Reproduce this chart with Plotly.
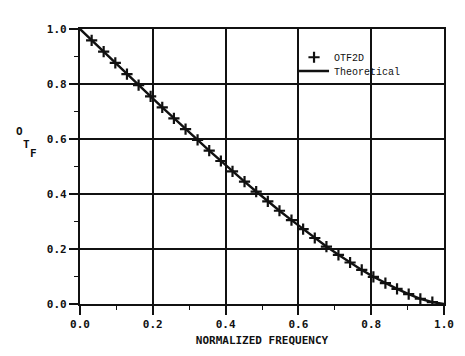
import plotly.graph_objects as go

freq_otf2d = [0.032, 0.065, 0.097, 0.129, 0.161, 0.194, 0.226, 0.258, 0.290, 0.323,
              0.355, 0.387, 0.419, 0.452, 0.484, 0.516, 0.548, 0.581, 0.613, 0.645,
              0.677, 0.710, 0.742, 0.774, 0.806, 0.839, 0.871, 0.903, 0.935, 0.968]
otf2d = [0.959, 0.918, 0.877, 0.836, 0.796, 0.755, 0.715, 0.675, 0.636, 0.597,
         0.558, 0.520, 0.482, 0.445, 0.409, 0.373, 0.339, 0.305, 0.272, 0.240,
         0.209, 0.179, 0.151, 0.124, 0.099, 0.076, 0.055, 0.036, 0.019, 0.007]

# Theoretical curve
freq_theory = [0.0, 0.032, 0.065, 0.097, 0.129, 0.161, 0.194, 0.226, 0.258, 0.290, 0.323,
               0.355, 0.387, 0.419, 0.452, 0.484, 0.516, 0.548, 0.581, 0.613, 0.645,
               0.677, 0.710, 0.742, 0.774, 0.806, 0.839, 0.871, 0.903, 0.935, 0.968, 1.0]
otf_theory = [1.0, 0.959, 0.918, 0.877, 0.836, 0.796, 0.755, 0.715, 0.675, 0.636, 0.597,
              0.558, 0.520, 0.482, 0.445, 0.409, 0.373, 0.339, 0.305, 0.272, 0.240,
              0.209, 0.179, 0.151, 0.124, 0.099, 0.076, 0.055, 0.036, 0.019, 0.007, 0.0]

tick_vals = [0.0, 0.2, 0.4, 0.6, 0.8, 1.0]
tick_text = ["0.0", "0.2", "0.4", "0.6", "0.8", "1.0"]

INK = "#111111"
tickfont = dict(family="DejaVu Sans Mono", size=11, color=INK, weight="bold")
legfont = dict(family="Liberation Mono", size=10, color=INK)

fig = go.Figure()
fig.add_trace(go.Scatter(
    x=freq_otf2d, y=otf2d, mode="markers", name="OTF2D", legend="legend",
    marker=dict(symbol="cross-thin", size=8, line=dict(color=INK, width=2.2), color=INK),
))
fig.add_trace(go.Scatter(
    x=freq_theory, y=otf_theory, mode="lines", name="Theoretical", legend="legend2",
    line=dict(color=INK, width=2.4),
))

axis_common = dict(
    range=[0, 1], tickvals=tick_vals, ticktext=tick_text,
    showgrid=True, gridcolor=INK, gridwidth=1.6,
    showline=True, linecolor=INK, linewidth=2.2, mirror=True,
    ticks="outside", ticklen=9, tickwidth=1.6, tickcolor=INK,
    tickfont=tickfont, zeroline=False,
    minor=dict(dtick=0.1, tick0=0, ticks="outside", ticklen=4, tickwidth=1.4,
               tickcolor=INK, showgrid=False),
)

fig.update_xaxes(**axis_common,
                 title=dict(text="NORMALIZED FREQUENCY", standoff=6,
                            font=dict(family="DejaVu Sans Mono", size=11, color=INK, weight="bold")))
fig.update_yaxes(**axis_common)

# Y-axis label "O T F" in staircase arrangement
for ch, x, y in [("O", 18, 133), ("T", 25, 146), ("F", 32, 155)]:
    fig.add_annotation(text=ch, xref="paper", yref="paper",
                       x=(x - 80) / 374, y=(308 - y) / 279,
                       xanchor="center", yanchor="middle", showarrow=False,
                       font=dict(family="DejaVu Sans Mono", size=11, color=INK, weight="bold"))

leg_common = dict(xanchor="left", yanchor="top", bgcolor="rgba(0,0,0,0)", borderwidth=0,
                  font=legfont, itemwidth=30)
fig.update_layout(
    width=465, height=356,
    margin=dict(l=80, r=11, t=29, b=48),
    paper_bgcolor="white", plot_bgcolor="white",
    showlegend=True,
    legend=dict(x=0.588, y=0.950, **leg_common),
    legend2=dict(x=0.588, y=0.900, **leg_common),
)

fig.write_html("out.html")
